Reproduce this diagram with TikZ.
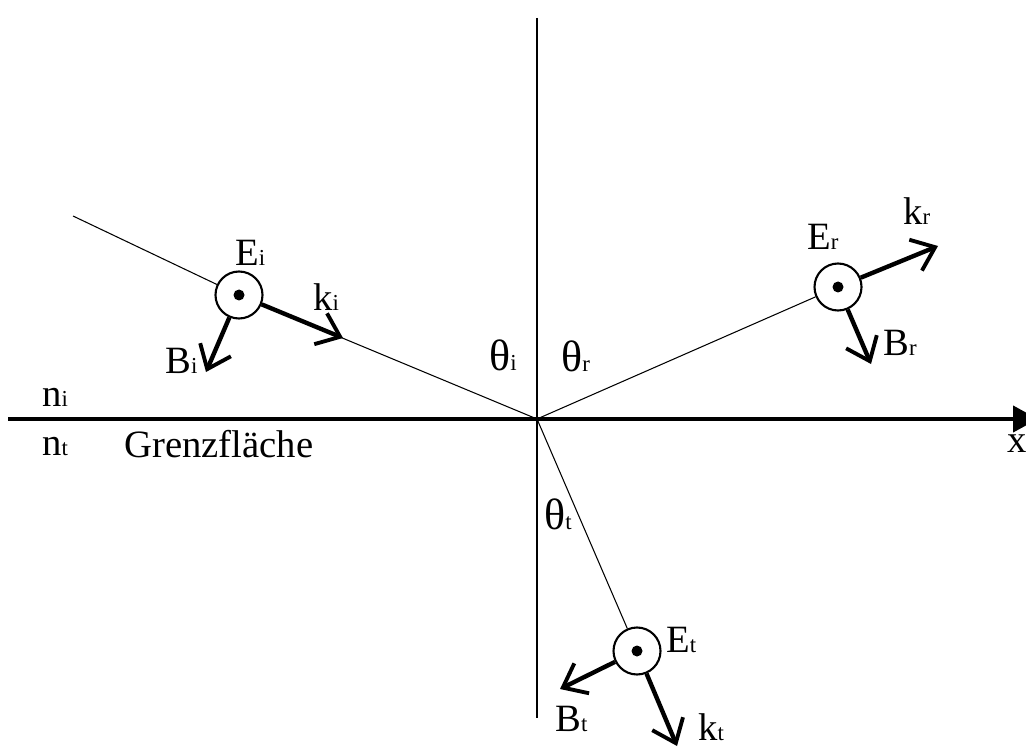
\documentclass[tikz,border=0pt]{standalone}
\usepackage{fontspec}
\setmainfont{Liberation Serif}
\usetikzlibrary{arrows.meta}
\newcommand{\sbs}[1]{{\fontsize{13}{13}\selectfont #1}}
\begin{document}
\begin{tikzpicture}[x=0.02cm,y=-0.02cm,
  lbl/.style={anchor=base west,inner sep=0pt,font=\fontsize{22}{22}\selectfont},
  thl/.style={anchor=base west,inner sep=0pt,font=\fontsize{25}{25}\selectfont},
  ray/.style={line width=0.6pt},
  vec/.style={line width=2.5pt,-{Straight Barb[length=12pt,width=19pt,line width=2.2pt]}},
  field/.style={circle,draw,line width=1.2pt,fill=white,minimum size=47*0.02cm,inner sep=0pt},
  dotc/.style={circle,fill,minimum size=11*0.02cm,inner sep=0pt}]
\useasboundingbox (0,0) rectangle (1026,749);
\coordinate (O) at (537,419);
\coordinate (inS) at (73,216);
\coordinate (axL) at (8,419);
\coordinate (axR) at (1038,419);
\coordinate (vT) at (537,18);
\coordinate (vB) at (537,718);
% circles
\node[field] (Ei) at (239,295) {};
\node[field] (Er) at (838,287) {};
\node[field] (Et) at (637,651) {};
% rays
\draw[ray] (inS) -- (Ei);
\draw[ray] (Ei) -- (O);
\draw[ray] (O) -- (Er);
\draw[ray] (O) -- (Et);
\draw[line width=1.6pt] (vT) -- (vB);
\draw[line width=2.3pt,-{Triangle[length=25*0.02cm,width=26*0.02cm]}] (axL) -- (axR);
\node[dotc] (Eid) at (Ei) {};
\node[dotc] (Erd) at (Er) {};
\node[dotc] (Etd) at (Et) {};
% vectors
\coordinate (kiT) at (343,338);
\coordinate (biT) at (206,372);
\coordinate (krT) at (938,246);
\coordinate (brT) at (871,364);
\coordinate (btT) at (560,689);
\coordinate (ktT) at (677,746);
\draw[vec] (Ei) -- (kiT);
\draw[vec] (Ei) -- (biT);
\draw[vec] (Er) -- (krT);
\draw[vec] (Er) -- (brT);
\draw[vec] (Et) -- (btT);
\draw[vec] (Et) -- (ktT);
% labels
\node[lbl] (lEi) at (235,266) {E\sbs{i}};
\node[lbl] (lki) at (313,311) {k\sbs{i}};
\node[lbl] (lBi) at (165,373) {B\sbs{i}};
\node[lbl] (lEr) at (807,250) {E\sbs{r}};
\node[lbl] (lkr) at (903,225) {k\sbs{r}};
\node[lbl] (lBr) at (883,356) {B\sbs{r}};
\node[lbl] (lEt) at (666,652) {E\sbs{t}};
\node[lbl] (lBt) at (555,731) {B\sbs{t}};
\node[lbl] (lkt) at (698,740) {k\sbs{t}};
\node[thl] (thi) at (489,370) {θ\sbs{i}};
\node[thl] (thr) at (561,371) {θ\sbs{r}};
\node[thl] (tht) at (544,529) {θ\sbs{t}};
\node[lbl] (ni) at (42,406) {n\sbs{i}};
\node[lbl] (nt) at (42,455) {n\sbs{t}};
\node[lbl] (gf) at (124,457) {Grenzfläche};
\node[lbl] (xl) at (1007,452) {x};
\end{tikzpicture}
\end{document}
